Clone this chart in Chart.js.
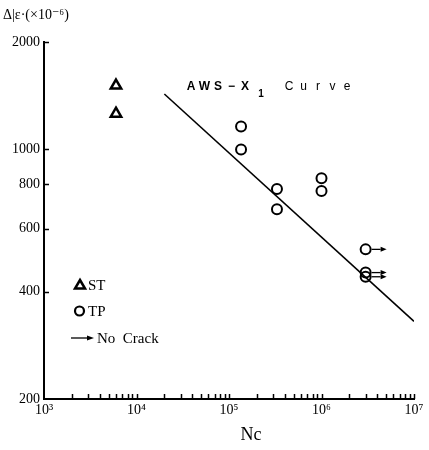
<!DOCTYPE html>
<html>
<head>
<meta charset="utf-8">
<script src="https://cdn.jsdelivr.net/npm/chart.js@4.4.1/dist/chart.umd.min.js"></script>
<style>
  html, body { margin: 0; padding: 0; background: #fff; }
  #wrap { width: 429px; height: 450px; }
</style>
</head>
<body>
<div id="wrap"><canvas id="snChart" width="429" height="450"></canvas></div>
<script>
// values
const xDecades     = [1e3, 1e4, 1e5, 1e6, 1e7];
const xTickLabels  = ['10³', '10⁴', '10⁵', '10⁶', '10⁷'];
const yTicks       = [200, 400, 600, 800, 1000, 2000];
const yTickLabels  = ['200', '400', '600', '800', '1000', '2000'];

const stCycles  = [6000, 6000];
const stStrain  = [1510, 1260];

const tpCycles  = [1.35e5, 1.35e5, 3.3e5, 3.3e5, 1e6, 1e6, 3e6, 3e6, 3e6];
const tpStrain  = [1160, 1000, 775, 680, 830, 765, 525, 452, 440];
const tpNoCrack = [false, false, false, false, false, false, true, true, true];

const curveCycles = [2e4, 1e7];
const curveStrain = [1430, 330];

const SERIF = "'Liberation Serif', 'DejaVu Serif', serif";
const SANS  = "'Liberation Sans', 'DejaVu Sans', sans-serif";

// minor tick marks 2..9 in every decade
const xTickValues = [];
xDecades.forEach((d, i) => {
  xTickValues.push(d);
  if (i < xDecades.length - 1) for (let m = 2; m <= 9; m++) xTickValues.push(m * d);
});

const zip = (xs, ys) => xs.map((x, i) => ({ x, y: ys[i] }));

function arrow(ctx, x0, x1, y, head) {
  ctx.beginPath();
  ctx.moveTo(x0, y);
  ctx.lineTo(x1 - head, y);
  ctx.stroke();
  ctx.beginPath();
  ctx.moveTo(x1, y);
  ctx.lineTo(x1 - head, y - 2.5);
  ctx.lineTo(x1 - head, y + 2.5);
  ctx.closePath();
  ctx.fill();
}

const decorations = {
  id: 'decorations',
  afterDraw(chart) {
    const { ctx, chartArea: area, scales: { x, y } } = chart;
    ctx.save();
    ctx.strokeStyle = '#000';
    ctx.fillStyle = '#000';

    // inward tick marks
    ctx.lineWidth = 1.5;
    xTickValues.forEach(v => {
      if (v === xDecades[0]) return;
      const px = Math.round(x.getPixelForValue(v)) + 0.5;
      ctx.beginPath();
      ctx.moveTo(px, area.bottom);
      ctx.lineTo(px, area.bottom - 5);
      ctx.stroke();
    });
    yTicks.forEach(v => {
      if (v === yTicks[0]) return;
      const py = Math.round(y.getPixelForValue(v)) + 0.5;
      ctx.beginPath();
      ctx.moveTo(area.left, py);
      ctx.lineTo(area.left + 5, py);
      ctx.stroke();
    });

    // no-crack arrows
    ctx.lineWidth = 1.3;
    chart.getDatasetMeta(1).data.forEach((pt, i) => {
      if (!tpNoCrack[i]) return;
      arrow(ctx, pt.x + 6, pt.x + 21, pt.y, 6);
    });

    // legend
    ctx.font = '15px ' + SERIF;
    ctx.textBaseline = 'middle';
    ctx.textAlign = 'left';
    ctx.lineWidth = 2.5;
    ctx.beginPath();
    ctx.moveTo(80, 280);
    ctx.lineTo(85, 288.5);
    ctx.lineTo(75, 288.5);
    ctx.closePath();
    ctx.stroke();
    ctx.fillText('ST', 88, 286);
    ctx.lineWidth = 2.2;
    ctx.beginPath();
    ctx.arc(79.5, 311, 4.5, 0, Math.PI * 2);
    ctx.stroke();
    ctx.fillText('TP', 88, 312);
    ctx.lineWidth = 1.3;
    arrow(ctx, 71, 94, 338, 7);
    ctx.fillText('No  Crack', 97, 339);

    // curve label, widely spaced letters
    ctx.font = '600 12px ' + SANS;
    ctx.textAlign = 'center';
    'AWS−X'.split('').forEach((c, i) => ctx.fillText(c, 191 + i * 13.5, 87));
    ctx.font = '600 10px ' + SANS;
    ctx.fillText('1', 261, 94);
    ctx.font = '12px ' + SANS;
    'Curve'.split('').forEach((c, i) => ctx.fillText(c, 289 + i * 14.5, 87));

    // axis titles
    ctx.font = '18px ' + SERIF;
    ctx.textAlign = 'center';
    ctx.fillText('Nc', 251, 435);
    ctx.font = '14px ' + SERIF;
    ctx.textAlign = 'left';
    ctx.fillText('Δ|ε·(×10⁻⁶)', 3, 15);

    ctx.restore();
  }
};

new Chart(document.getElementById('snChart').getContext('2d'), {
  type: 'scatter',
  data: {
    datasets: [
      {
        label: 'ST',
        data: zip(stCycles, stStrain),
        pointStyle: 'triangle',
        pointRadius: 6,
        borderWidth: 2.5,
        borderColor: '#000',
        backgroundColor: 'rgba(255,255,255,0)'
      },
      {
        label: 'TP',
        data: zip(tpCycles, tpStrain),
        pointStyle: 'circle',
        pointRadius: 5,
        borderWidth: 2,
        borderColor: '#000',
        backgroundColor: 'rgba(255,255,255,0)'
      },
      {
        label: 'AWS-X1 Curve',
        data: zip(curveCycles, curveStrain),
        showLine: true,
        pointRadius: 0,
        borderWidth: 1.6,
        borderColor: '#000'
      }
    ]
  },
  options: {
    responsive: false,
    animation: false,
    events: [],
    layout: { padding: { left: 0, right: 15, top: 42, bottom: 0 } },
    plugins: {
      legend: { display: false },
      tooltip: { enabled: false }
    },
    scales: {
      x: {
        type: 'logarithmic',
        min: xDecades[0],
        max: xDecades[xDecades.length - 1],
        afterBuildTicks: s => { s.ticks = xTickValues.map(value => ({ value })); },
        afterFit: s => { s.height = 51; s.paddingLeft = 0; s.paddingRight = 0; },
        grid: { display: false, drawTicks: false },
        border: { display: true, color: '#000', width: 2 },
        ticks: {
          autoSkip: false,
          maxRotation: 0,
          padding: 3,
          color: '#000',
          font: { family: SERIF, size: 14 },
          callback: v => {
            const i = xDecades.indexOf(v);
            return i >= 0 ? xTickLabels[i] : '';
          }
        }
      },
      y: {
        type: 'logarithmic',
        min: yTicks[0],
        max: yTicks[yTicks.length - 1],
        afterBuildTicks: s => { s.ticks = yTicks.map(value => ({ value })); },
        afterFit: s => { s.width = 44; s.paddingTop = 0; s.paddingBottom = 0; },
        grid: { display: false, drawTicks: false },
        border: { display: true, color: '#000', width: 2 },
        ticks: {
          autoSkip: false,
          padding: 4,
          color: '#000',
          font: { family: SERIF, size: 14 },
          callback: v => {
            const i = yTicks.indexOf(v);
            return i >= 0 ? yTickLabels[i] : '';
          }
        }
      }
    }
  },
  plugins: [decorations]
});
</script>
</body>
</html>
